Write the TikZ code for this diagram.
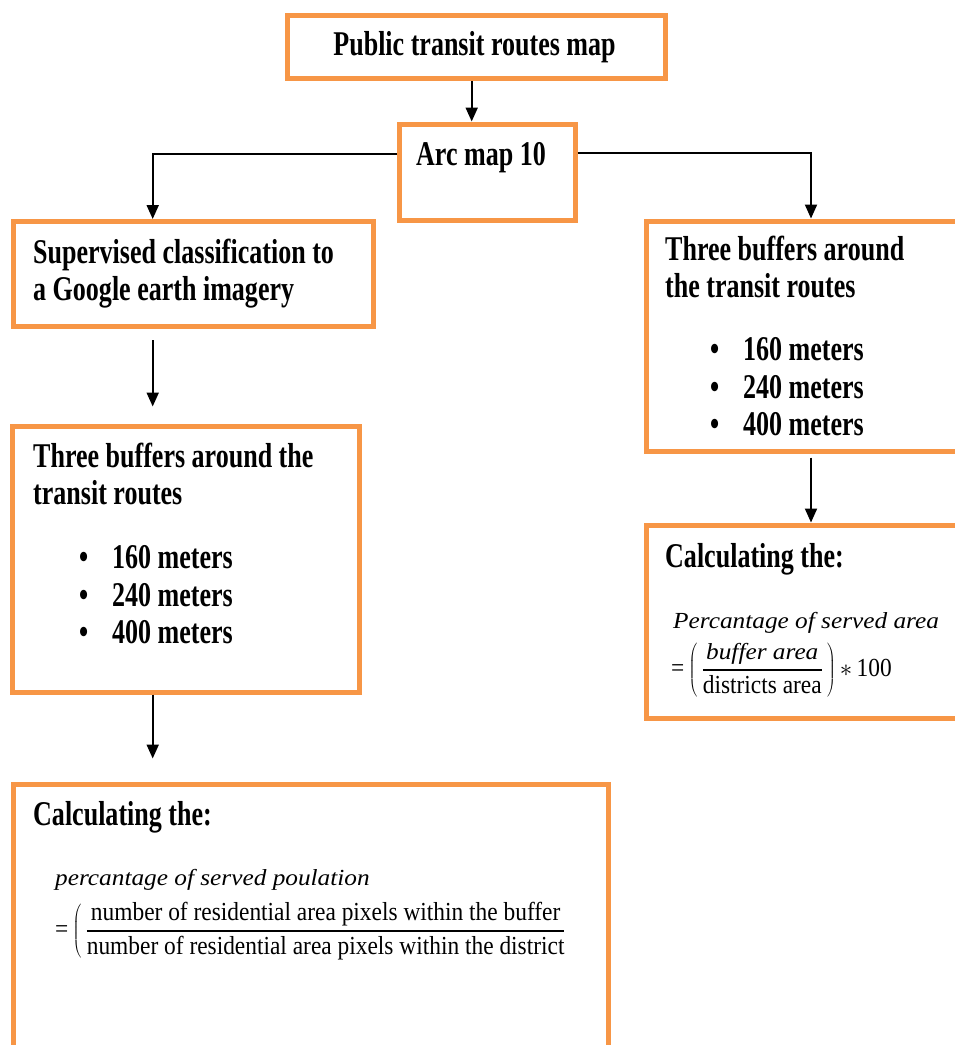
\documentclass[tikz,border=0pt]{standalone}
\usepackage{fontspec}
\setmainfont{Liberation Serif}[FakeStretch=0.75]
\newfontfamily\eqfont{Liberation Serif}[FakeStretch=0.9]
\newfontfamily\eqitfont{Liberation Serif}[FakeStretch=1.1]
\usetikzlibrary{arrows.meta}
\definecolor{boxorange}{RGB}{247,150,70}
\tikzset{
  box/.style={draw=boxorange, line width=5pt, inner sep=0pt},
  txt/.style={inner sep=0pt, align=left, font=\fontsize{34.7}{37.5}\selectfont\bfseries},
  eqtxt/.style={inner sep=0pt, font=\fontsize{26}{30}\selectfont\eqfont},
  eqit/.style={inner sep=0pt, font=\fontsize{23}{28}\selectfont\eqitfont\itshape},
  arr/.style={line width=2pt, -{Triangle[length=14pt,width=12pt]}},
}
\newcommand{\bul}[2]{\hspace*{#1}\makebox[33pt][l]{\textbullet}#2}
\begin{document}
\begin{tikzpicture}[x=1pt,y=-1pt]
            \useasboundingbox (0,0) rectangle (955,1045);
            \clip (0,0) rectangle (955,1045);

            \node[box, minimum width=378, minimum height=63.5] (top) at (476.5,46.75) {};
            \node[box, minimum width=175.5, minimum height=96] (arc) at (487.25,172) {};
            \node[box, minimum width=360, minimum height=105] (sup) at (193.5,274) {};
            \node[box, minimum width=330, minimum height=230] (buf2) at (811,336) {};
            \node[box, minimum width=346.5, minimum height=266] (buf1) at (185.75,559) {};
            \node[box, minimum width=330, minimum height=193] (calc2) at (811,621.5) {};
            \node[box, minimum width=594.5, minimum height=286] (calc1) at (310.75,927) {};

            \node[txt, anchor=base] (toptxt) at (474.5,55) {Public transit routes map};
            \node[txt, anchor=base] (arctxt) at (481,165) {Arc map 10};
            \node[txt, anchor=north west] (suptxt) at (33,236.75)
                {\strut Supervised classification to\\a Google earth imagery};
            \node[txt, anchor=north west] (buf2txt) at (665,233.75)
                {\strut Three buffers around\\the transit routes\\[25.5pt]
                 \bul{45pt}{160 meters}\\\bul{45pt}{240 meters}\\\bul{45pt}{400 meters}};
            \node[txt, anchor=north west] (buf1txt) at (33,440.75)
                {\strut Three buffers around the\\transit routes\\[26.5pt]
                 \bul{46pt}{160 meters}\\\bul{46pt}{240 meters}\\\bul{46pt}{400 meters}};
            \node[txt, anchor=base west] (calc2txt) at (665,567) {Calculating the:};
            \node[txt, anchor=base west] (calc1txt) at (33,825) {Calculating the:};

            \node[eqit, anchor=base west] (area) at (673,628) {Percantage of served area};
            \node[eqtxt, anchor=base west] (areaeq) at (671,676)
                {=\,$\left(\,\displaystyle{\hbox{\fontsize{23}{28}\selectfont\eqitfont\itshape buffer area}\above1.5pt\hbox{districts area}}\,\right)\ast$\,100};
            \node[eqit, anchor=base west] (pop) at (55,885) {percantage of served poulation};
            \node[eqtxt, anchor=base west] (popeq) at (55,937)
                {=\,$\left(\,\displaystyle{\hbox{number of residential area pixels within the buffer}\above1.5pt\hbox{number of residential area pixels within the district}}\right.$};

            \draw[arr] ([xshift=-4.8]top.south) -- ([xshift=-4.8]top.south |- arc.north);
            \draw[arr] ([yshift=18]arc.west) -| ([xshift=-40.8]sup.north);
            \draw[arr] ([yshift=19]arc.east) -| (buf2.north);
            \draw[arr, shorten <=11, shorten >=17] ([xshift=-40.8]sup.south) -- ([xshift=-40.8]sup.south |- buf1.north);
            \draw[arr, shorten >=23] ([xshift=-33.05]buf1.south) -- ([xshift=-33.05]buf1.south |- calc1.north);
            \draw[arr, shorten <=4] (buf2.south) -- (calc2.north);
        \end{tikzpicture}
\end{document}
